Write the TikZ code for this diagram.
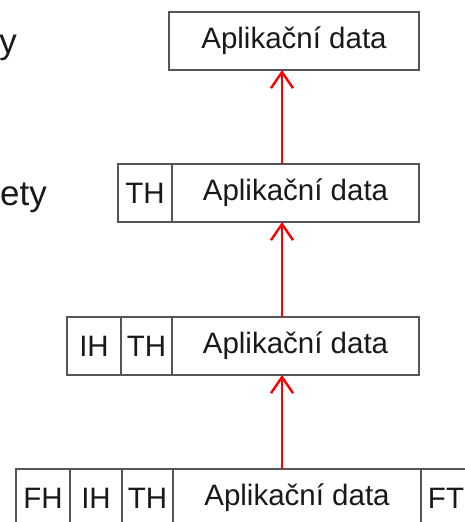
\documentclass[tikz,border=0pt]{standalone}
\usepackage{fontspec}
\setmainfont{Liberation Sans}
\usetikzlibrary{arrows.meta, positioning}

\definecolor{boxgray}{RGB}{85,85,85}
\definecolor{txtblack}{RGB}{25,25,25}

\begin{document}
\begin{tikzpicture}[x = 1pt, y = -1pt, % pixel-like units, y downwards
                > = {Straight Barb[length=16pt, width=22pt]}, % open arrow head
                node distance = 0pt, % cells touch each other
                font = \fontsize{29.5}{35}\selectfont
            ]

            \tikzstyle{cell}=[draw = boxgray, rectangle, line width = 1.3pt,
            minimum height = 58pt, inner sep = 0pt, outer sep = 0pt,
            text = txtblack]
            \tikzstyle{layer}=[anchor = base east, inner sep = 0pt,
            text = txtblack, font = \fontsize{35}{42}\selectfont]
            \tikzstyle{up}=[->, red, line width = 2.4pt]

            \useasboundingbox (0,0) rectangle (465,522);
            \clip (0,0) rectangle (465,522);

            % cut-off layer names on the left
            \node (lay1) [layer] at (17,53) {y};
            \node (lay2) [layer] at (47,205) {ety};

            % application
            \node (data1) [cell, minimum width = 250pt] at (294,41)
            {Aplikační data};

            % transport
            \node (th2) [cell, minimum width = 54pt] at (145,193) {TH};
            \node (data2) [cell, minimum width = 247pt, right = of th2]
            {Aplikační data};

            % network
            \node (ih3) [cell, minimum width = 54pt] at (94,346) {IH};
            \node (th3) [cell, minimum width = 51pt, right = of ih3] {TH};
            \node (data3) [cell, minimum width = 247pt, right = of th3]
            {Aplikační data};

            % link
            \node (fh4) [cell, minimum width = 54pt] at (43,498) {FH};
            \node (ih4) [cell, minimum width = 52pt, right = of fh4] {IH};
            \node (th4) [cell, minimum width = 51pt, right = of ih4] {TH};
            \node (data4) [cell, minimum width = 248pt, right = of th4]
            {Aplikační data};
            \node (ft4) [cell, minimum width = 50pt, right = of data4] {FT};

            % arrows all on one vertical line
            \coordinate (arr) at (282,0);
            \draw[up] (data4.north -| arr) -- (data3.south -| arr);
            \draw[up] (data3.north -| arr) -- (data2.south -| arr);
            \draw[up] (data2.north -| arr) -- (data1.south -| arr);
        \end{tikzpicture}
\end{document}
